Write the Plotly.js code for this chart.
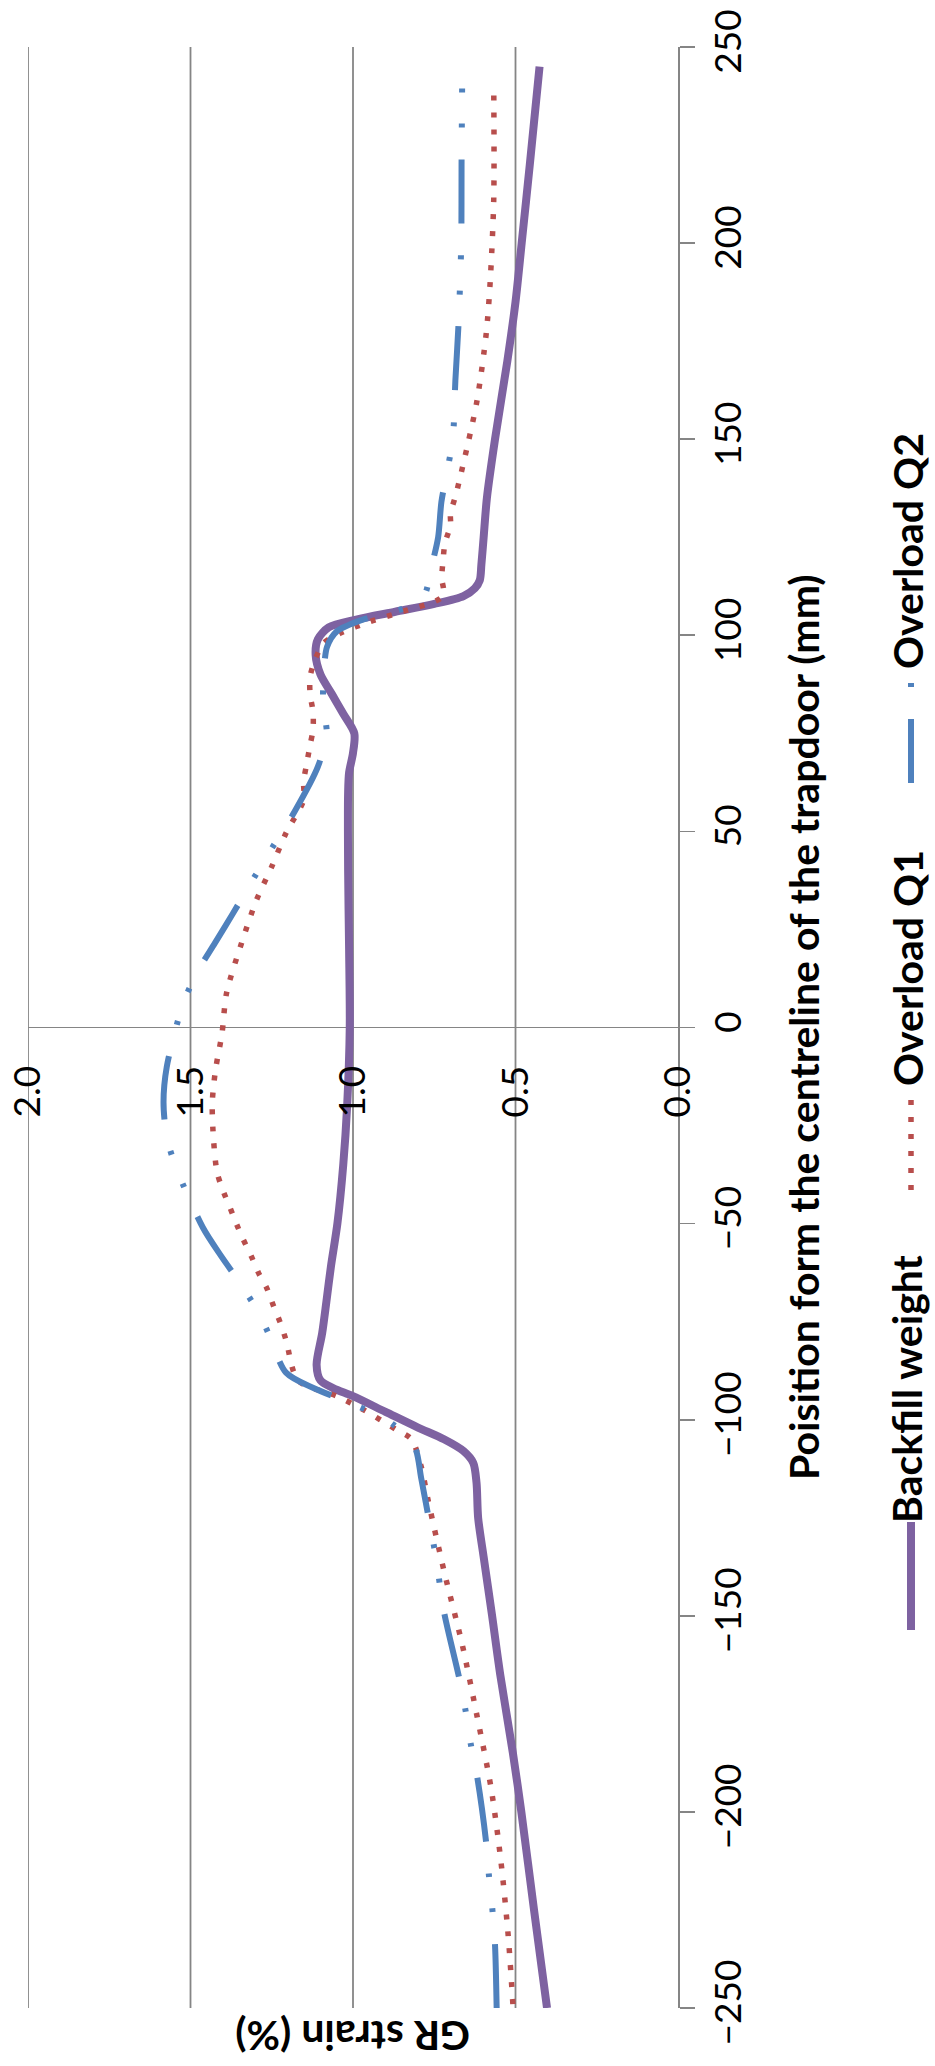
<!DOCTYPE html>
<html>
<head>
<meta charset="utf-8">
<script src="https://cdn.plot.ly/plotly-3.0.1.min.js"></script>
<style>html,body{margin:0;padding:0;background:#fff;}#chart{width:935px;height:2066px;}</style>
</head>
<body>
<div id="chart"></div>
<script>
// ---- data (position in mm, GR strain in %) ----
const seriesNames = ['Backfill weight', 'Overload Q1', 'Overload Q2'];

const backfillPos = [-250, -225, -200, -185, -165, -150, -135, -125, -116, -111, -108, -105, -102, -98, -94, -92, -90, -86, -78, -70, -61, -50, -35, -20, 0, 20, 40, 60, 65, 70, 75, 80, 85, 90, 95, 99, 102, 104, 106, 108, 110, 112, 114, 118, 125, 135, 150, 170, 185, 200, 220, 245];
const backfillStrain = [0.403, 0.443, 0.482, 0.508, 0.547, 0.572, 0.598, 0.615, 0.62, 0.63, 0.66, 0.72, 0.80, 0.90, 1.0, 1.06, 1.10, 1.112, 1.095, 1.082, 1.068, 1.048, 1.03, 1.018, 1.01, 1.012, 1.015, 1.015, 1.012, 1.0, 0.996, 1.03, 1.065, 1.10, 1.115, 1.108, 1.075, 0.99, 0.87, 0.75, 0.66, 0.625, 0.61, 0.605, 0.598, 0.588, 0.563, 0.525, 0.50, 0.481, 0.456, 0.426];

const q1Pos = [-249, -231, -212.5, -194, -175.7, -157.3, -138.9, -120.5, -112, -105, -102.6, -97.5, -94, -90, -79.7, -75, -70.7, -66.5, -62.7, -58.5, -54, -50.4, -46, -42, -37, -28.7, -19.3, -10.8, -1.5, 8.8, 21.5, 32.5, 41, 49.6, 58, 62.7, 67, 72, 76, 80.5, 85, 89.4, 93.7, 98, 100.5, 103.5, 106, 110, 114.6, 119, 123.5, 128, 131, 136, 149, 160, 177, 190, 211, 240];
const q1Strain = [0.508, 0.523, 0.545, 0.575, 0.618, 0.664, 0.719, 0.769, 0.79, 0.82, 0.866, 0.967, 1.05, 1.169, 1.206, 1.225, 1.246, 1.265, 1.29, 1.312, 1.338, 1.357, 1.378, 1.398, 1.418, 1.429, 1.433, 1.423, 1.403, 1.389, 1.343, 1.297, 1.25, 1.206, 1.152, 1.152, 1.143, 1.132, 1.123, 1.123, 1.132, 1.132, 1.117, 1.09, 1.04, 0.948, 0.85, 0.723, 0.727, 0.723, 0.717, 0.70, 0.70, 0.683, 0.646, 0.618, 0.59, 0.578, 0.567, 0.567];

const q2Pos = [-250, -234, -225, -216, -208, -191, -183, -174, -165.6, -149, -135, -125.6, -115, -107, -101, -96, -92, -88, -78, -73, -65.7, -58.5, -51, -36, -28, -19, -10, 6, 14, 21.5, 29, 43, 55, 66.5, 75, 82, 90, 97, 101, 104, 107, 110, 117, 125, 134, 142, 150, 165, 180, 200, 220, 242];
const q2Strain = [0.558, 0.563, 0.571, 0.582, 0.59, 0.618, 0.637, 0.654, 0.674, 0.72, 0.745, 0.766, 0.79, 0.81, 0.88, 1.0, 1.12, 1.206, 1.26, 1.289, 1.343, 1.404, 1.462, 1.543, 1.573, 1.583, 1.573, 1.523, 1.48, 1.425, 1.37, 1.27, 1.18, 1.108, 1.081, 1.092, 1.09, 1.08, 1.05, 0.97, 0.84, 0.782, 0.76, 0.738, 0.728, 0.71, 0.693, 0.685, 0.675, 0.667, 0.666, 0.664];

const strainTicks = [0, 0.5, 1.0, 1.5, 2.0];
const strainTickText = ['0.0', '0.5', '1.0', '1.5', '2.0'];
const posTicks = [-250, -200, -150, -100, -50, 0, 50, 100, 150, 200, 250];

// ---- styles ----
const PURPLE = '#7E62A1';
const RED = '#B84E4C';
const BLUE = '#4F81BD';
const GRID = '#858585';
const FONT = 'Lato, "Open Sans", sans-serif';
const blueDash = '64px,32px,4px,31px,4px,32px';
const redDash = '5px,12px';
const TEXT_SIZE = 41;

const traces = [
  {x: backfillStrain, y: backfillPos, name: seriesNames[0], mode: 'lines',
   line: {color: PURPLE, width: 8, shape: 'spline', smoothing: 0.8}},
  {x: q1Strain, y: q1Pos, name: seriesNames[1], mode: 'lines',
   line: {color: RED, width: 5.5, dash: redDash, shape: 'spline', smoothing: 0.8}},
  {x: q2Strain, y: q2Pos, name: seriesNames[2], mode: 'lines',
   line: {color: BLUE, width: 6, dash: blueDash, shape: 'spline', smoothing: 0.8}}
];

// pixel helpers (plot area: left 28, right 678, top 47, bottom 2008)
const L = 28, R = 678, T = 47, B = 2008;
const px = v => (v - L) / (R - L);
const py = v => (B - v) / (B - T);

const legendX = px(911);
const legendTextX = px(907);
const legendItems = [
  {text: seriesNames[0], yc: 1388, y0: 1630, y1: 1522, color: PURPLE, width: 8, dash: 'solid'},
  {text: seriesNames[1], yc: 968, y0: 1190, y1: 1100, color: RED, width: 5.5, dash: redDash},
  {text: seriesNames[2], yc: 551, y0: 783, y1: 682, color: BLUE, width: 6, dash: blueDash}
];

const annotations = [
  {text: 'Poisition form the centreline of the trapdoor (mm)', xref: 'paper', yref: 'paper',
   x: px(803), y: py(1027), xanchor: 'center', yanchor: 'middle', textangle: -90, showarrow: false,
   font: {family: FONT, size: TEXT_SIZE, color: '#000', weight: 'bold'}},
  {text: 'GR strain (%)', xref: 'x', yref: 'paper', x: 1.0, y: py(2037),
   xanchor: 'center', yanchor: 'middle', textangle: 180, showarrow: false,
   font: {family: FONT, size: TEXT_SIZE, color: '#000', weight: 'bold'}}
];
const shapes = [];
// grid lines at the strain ticks
strainTicks.filter(v => v > 0).forEach(v => {
  shapes.push({type: 'line', xref: 'x', yref: 'paper', x0: v, x1: v, y0: 0, y1: 1,
    layer: 'below', line: {color: GRID, width: 1.8}});
});
legendItems.forEach(it => {
  annotations.push({text: it.text, xref: 'paper', yref: 'paper', x: legendTextX, y: py(it.yc),
    xanchor: 'center', yanchor: 'middle', textangle: -90, showarrow: false,
    font: {family: FONT, size: TEXT_SIZE, color: '#000', weight: 'bold'}});
  shapes.push({type: 'line', xref: 'paper', yref: 'paper', x0: legendX, x1: legendX,
    y0: py(it.y0), y1: py(it.y1), line: {color: it.color, width: it.width, dash: it.dash}});
});

const layout = {
  width: 935, height: 2066,
  margin: {l: L, r: 935 - R, t: T, b: 2066 - B, pad: 0},
  paper_bgcolor: '#fff', plot_bgcolor: '#fff',
  showlegend: false,
  xaxis: {
    range: [2, 0], tickvals: strainTicks, ticktext: strainTickText, tickangle: -90,
    anchor: 'free', position: 0.5, side: 'bottom', automargin: false,
    showgrid: false, zeroline: false, showline: false,
    ticks: '', ticklabelstandoff: 30,
    tickfont: {family: FONT, size: 37, color: '#000'}
  },
  yaxis: {
    range: [-250, 250], tickvals: posTicks, tickangle: -90, side: 'right', automargin: false,
    ticks: 'outside', ticklen: 15, tickwidth: 1.8, tickcolor: GRID,
    showline: true, linecolor: GRID, linewidth: 1.8, mirror: false,
    showgrid: false, zeroline: true, zerolinecolor: GRID, zerolinewidth: 1.8,
    ticklabelstandoff: 2,
    tickfont: {family: FONT, size: 37, color: '#000'}
  },
  annotations: annotations,
  shapes: shapes
};

Plotly.newPlot('chart', traces, layout, {staticPlot: true, displayModeBar: false});
</script>
</body>
</html>
